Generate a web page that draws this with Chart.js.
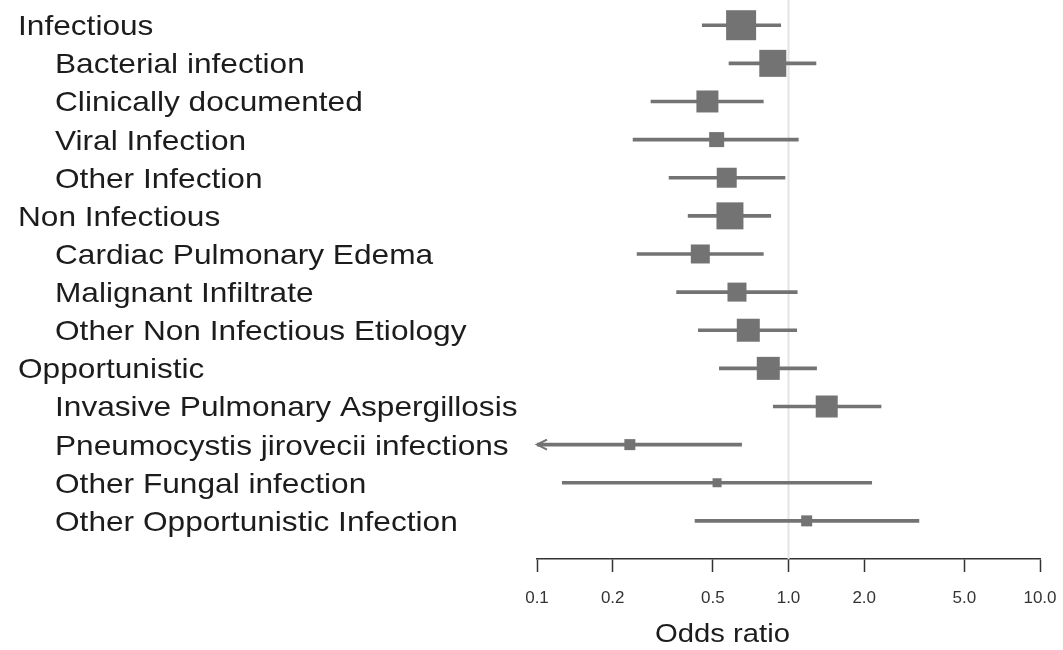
<!DOCTYPE html>
<html>
<head>
<meta charset="utf-8">
<script src="https://cdn.jsdelivr.net/npm/chart.js@4/dist/chart.umd.min.js"></script>
<style>
  body { margin: 0; background: #fff; }
  canvas { display: block; }
</style>
</head>
<body>
<canvas id="forest" width="1063" height="650"></canvas>
<script>
// rows, top to bottom
var labels = [
  "Infectious", "Bacterial infection", "Clinically documented", "Viral Infection", "Other Infection",
  "Non Infectious", "Cardiac Pulmonary Edema", "Malignant Infiltrate", "Other Non Infectious Etiology",
  "Opportunistic", "Invasive Pulmonary Aspergillosis", "Pneumocystis jirovecii infections",
  "Other Fungal infection", "Other Opportunistic Infection"
];
var isGroup = [true, false, false, false, false, true, false, false, false, true, false, false, false, false];
var oddsRatio = [0.648, 0.866, 0.476, 0.518, 0.568, 0.585, 0.446, 0.624, 0.692, 0.831, 1.419, 0.234, 0.520, 1.181];
var lower     = [0.454, 0.580, 0.284, 0.241, 0.335, 0.399, 0.250, 0.359, 0.438, 0.531, 0.870, 0.050, 0.126, 0.425];
var upper     = [0.931, 1.286, 0.794, 1.094, 0.968, 0.850, 0.794, 1.083, 1.078, 1.293, 2.333, 0.651, 2.142, 3.300];
var weights   = [30, 27, 22, 15, 20, 27, 19, 19, 23, 23, 22, 11, 9, 11];
var xTicks = [0.1, 0.2, 0.5, 1, 2, 5, 10];

var grey = '#737373';
var textColor = '#1c1c1c';

var ciData = labels.map(function (l, i) { return { x: [lower[i], upper[i]], y: i }; });
var orData = labels.map(function (l, i) { return { x: oddsRatio[i], y: i }; });

// left hand labels, drawn a bit wide like the original
var rowLabels = {
  id: 'rowLabels',
  afterDraw: function (chart) {
    var ctx = chart.ctx, y = chart.scales.y, x = chart.scales.x;
    ctx.save();
    ctx.fillStyle = textColor;
    ctx.font = '28px "Liberation Sans", Arial, sans-serif';
    ctx.textBaseline = 'alphabetic';
    labels.forEach(function (l, i) {
      ctx.save();
      ctx.translate(isGroup[i] ? 18 : 55, y.getPixelForValue(i) + 10);
      ctx.scale(1.13, 1);
      ctx.fillText(l, 0, 0);
      ctx.restore();
    });
    // axis title
    ctx.save();
    ctx.font = '25px "Liberation Sans", Arial, sans-serif';
    ctx.translate(655, 642);
    ctx.scale(1.17, 1);
    ctx.fillText('Odds ratio', 0, 0);
    ctx.restore();
    // arrow for intervals cut off at the left edge
    ctx.strokeStyle = grey;
    ctx.lineWidth = 2;
    lower.forEach(function (v, i) {
      if (v < x.min) {
        var px = x.left, py = y.getPixelForValue(i);
        ctx.beginPath();
        ctx.moveTo(px + 10, py - 5);
        ctx.lineTo(px, py);
        ctx.lineTo(px + 10, py + 5);
        ctx.stroke();
      }
    });
    ctx.restore();
  }
};

new Chart(document.getElementById('forest'), {
  type: 'scatter',
  data: {
    datasets: [
      {
        type: 'line',
        data: [{ x: 1, y: -0.76 }, { x: 1, y: 14 }],
        borderColor: '#e4e4e4',
        borderWidth: 2,
        pointRadius: 0,
        clip: false,
        order: 3
      },
      {
        type: 'bar',
        indexAxis: 'y',
        data: ciData,
        backgroundColor: grey,
        barThickness: 3,
        order: 2
      },
      {
        data: orData,
        pointStyle: 'rect',
        pointRadius: weights.map(function (w) { return w / Math.SQRT2; }),
        backgroundColor: grey,
        borderWidth: 0,
        clip: false,
        order: 1
      }
    ]
  },
  options: {
    responsive: false,
    animation: false,
    layout: { padding: { left: 537, right: 23, top: 0, bottom: 0 } },
    plugins: { legend: { display: false }, tooltip: { enabled: false } },
    scales: {
      x: {
        type: 'logarithmic',
        min: 0.1,
        max: 10,
        offset: false,
        afterBuildTicks: function (s) { s.ticks = xTicks.map(function (v) { return { value: v }; }); },
        afterFit: function (s) {
          s.height = 91;
          s.paddingLeft = 0; s.paddingRight = 0;
        },
        ticks: {
          color: '#333',
          font: { family: '"Liberation Sans", Arial, sans-serif', size: 17 },
          padding: 16,
          maxRotation: 0,
          autoSkip: false,
          callback: function (v) { return Number(v).toFixed(1); }
        },
        grid: { offset: false, drawOnChartArea: false, drawTicks: true, tickLength: 13, tickColor: '#333', tickWidth: 1.5 },
        border: { display: true, color: '#333', width: 1.5 }
      },
      y: {
        type: 'linear',
        reverse: true,
        offset: false,
        grid: { offset: false },
        min: -0.105,
        max: 14,
        display: false
      }
    }
  },
  plugins: [rowLabels]
});
</script>
</body>
</html>
